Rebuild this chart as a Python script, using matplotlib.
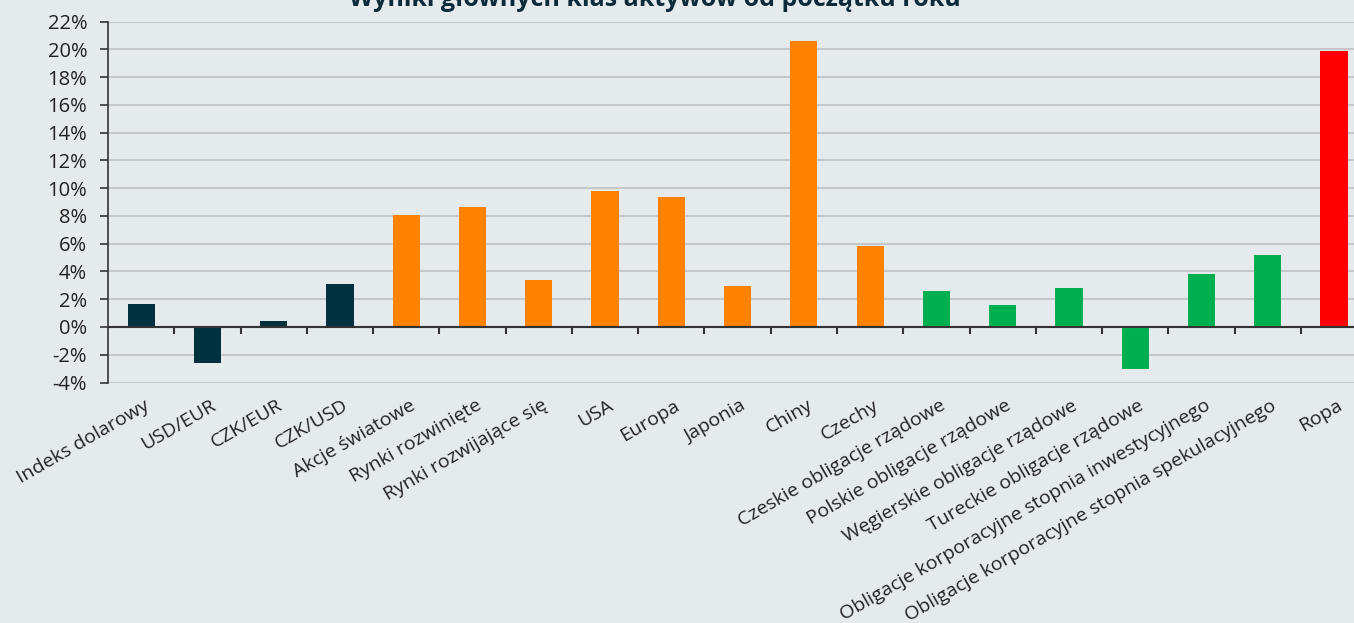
import matplotlib
matplotlib.use("Agg")
import matplotlib.pyplot as plt
import numpy as np

categories = ["Indeks dolarowy", "USD/EUR", "CZK/EUR", "CZK/USD", "Akcje światowe",
              "Rynki rozwinięte", "Rynki rozwijające się", "USA", "Europa", "Japonia",
              "Chiny", "Czechy", "Czeskie obligacje rządowe", "Polskie obligacje rządowe",
              "Węgierskie obligacje rządowe", "Tureckie obligacje rządowe",
              "Obligacje korporacyjne stopnia inwestycyjnego",
              "Obligacje korporacyjne stopnia spekulacyjnego", "Ropa"]
values = [1.66, -2.57, 0.43, 3.1, 8.08, 8.66, 3.4, 9.81, 9.38, 2.96,
          20.63, 5.84, 2.6, 1.6, 2.8, -3.03, 3.82, 5.2, 19.9]
groups = ["fx"] * 4 + ["eq"] * 8 + ["bond"] * 6 + ["oil"]
yticks = list(range(-4, 23, 2))

group_colors = {"fx": "#00313f", "eq": "#ff8200", "bond": "#00b050", "oil": "#ff0000"}
bg = "#e5eaed"

plt.rcParams['font.family'] = ['Open Sans', 'DejaVu Sans']

fig = plt.figure(figsize=(13.54, 6.23), dpi=100, facecolor=bg)
ax = fig.add_axes([108/1354, 1-382.5/623, (19*66.27)/1354, (382.5-21.5)/623])
ax.set_facecolor(bg)

x = np.arange(len(categories))
ax.bar(x, values, width=0.41, color=[group_colors[g] for g in groups], zorder=3)

ax.set_xlim(-0.5, len(categories) - 0.5)
ax.set_ylim(-4, 22)
ax.set_yticks(yticks)
ax.set_yticklabels([f"{t}%" for t in yticks], fontsize=14.5, color="#222222")
ax.yaxis.grid(True, color="#c6c9cb", lw=1.5, zorder=0)
ax.set_axisbelow(True)
ax.tick_params(axis='y', direction='out', length=6, width=1.2, color="#333333", pad=9)

for s in ["top", "right", "bottom"]:
    ax.spines[s].set_visible(False)
ax.spines["left"].set_color("#333333")
ax.spines["left"].set_linewidth(1.2)
ax.axhline(0, color="#333333", lw=1.5, zorder=4)

# category boundary ticks on the zero line
ax.set_xticks([])
for b in np.arange(0.5, len(categories) - 0.5, 1):
    ax.plot([b, b], [0, -0.4], color="#333333", lw=1.5, zorder=4, clip_on=False)

# category labels
for i, lab in enumerate(categories):
    ax.annotate(lab, xy=(i, 0), xycoords=('data', 'axes fraction'),
                xytext=(2, -10), textcoords='offset points',
                rotation=30, rotation_mode='anchor', ha='right', va='top',
                fontsize=14, color="#222222", annotation_clip=False)

fig.text(0.484, 1.0 - 6/623, "Wyniki głównych klas aktywów od początku roku",
         ha='center', va='baseline', fontsize=18, fontweight='bold', color="#0b2a3a")

fig.savefig("out.png", dpi=100, facecolor=bg)
